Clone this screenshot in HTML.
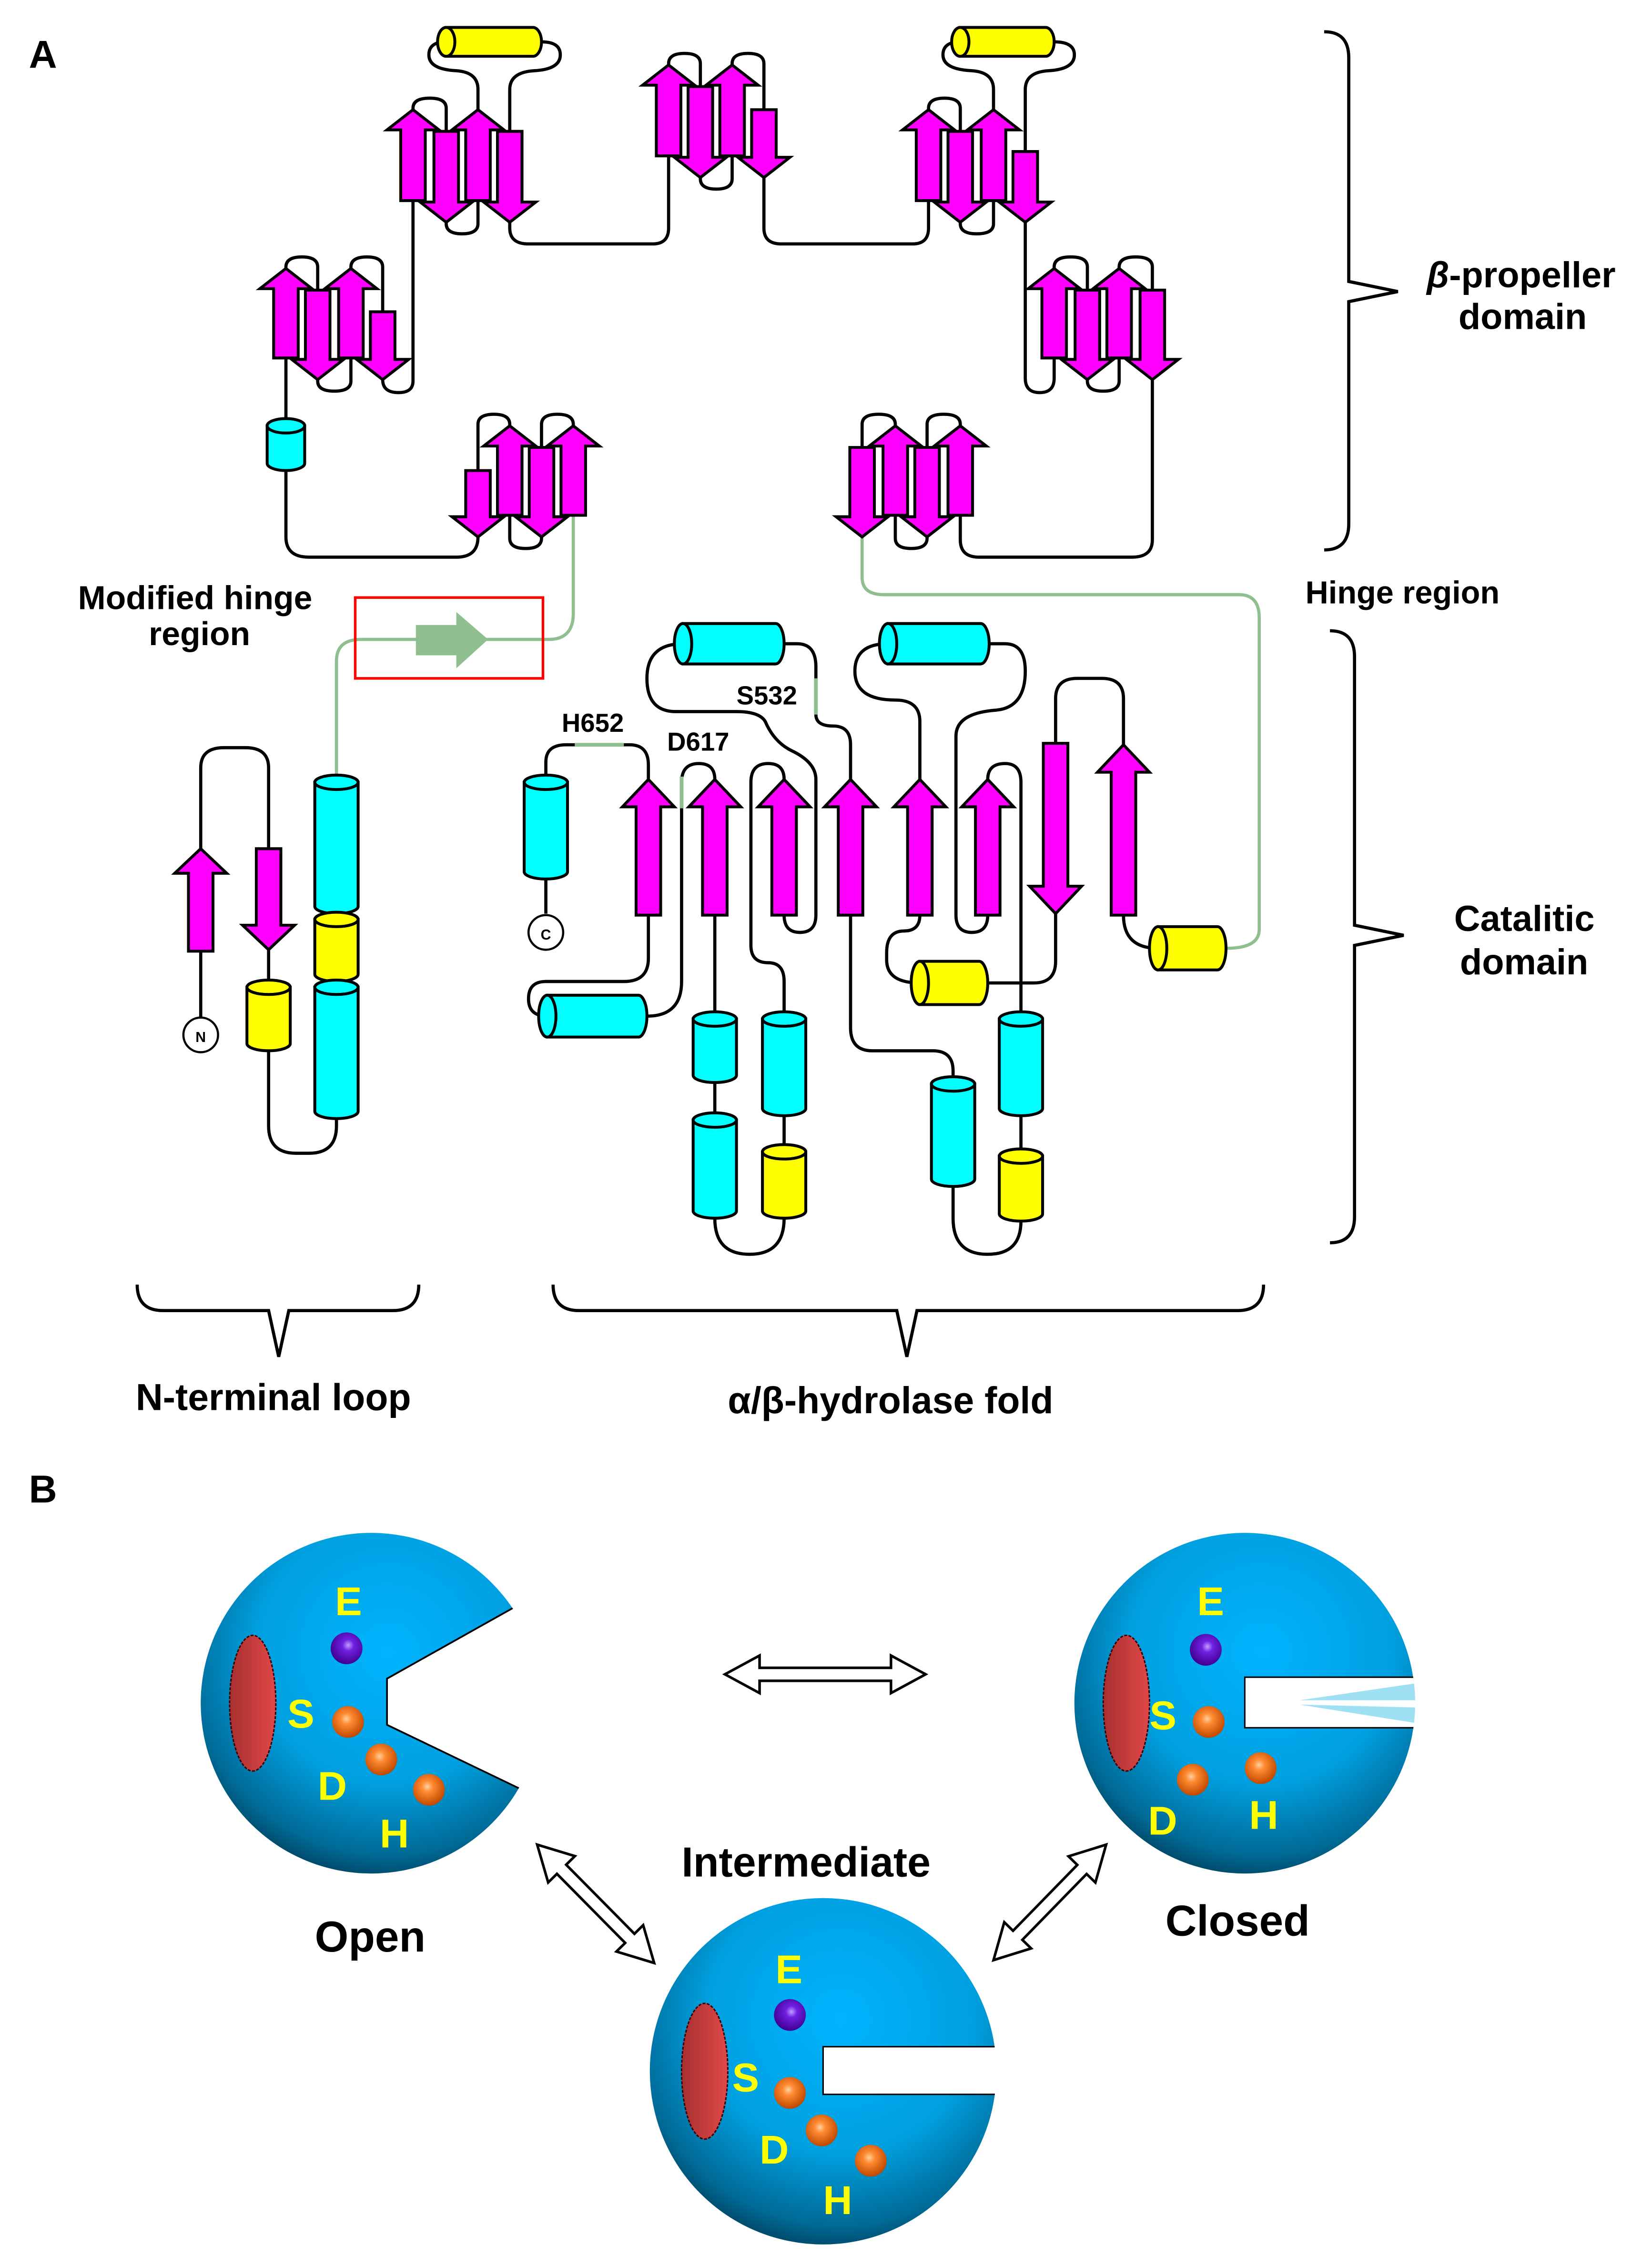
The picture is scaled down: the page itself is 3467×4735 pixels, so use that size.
<!DOCTYPE html>
<html><head><meta charset="utf-8">
<style>
html,body{margin:0;padding:0;background:#fff;}
svg{display:block;}
text{font-family:"Liberation Sans",Arial,sans-serif;font-weight:bold;}
</style></head>
<body>
<svg id="s" width="3467" height="4735" viewBox="0 0 1144 1563" preserveAspectRatio="none" xmlns="http://www.w3.org/2000/svg">
<defs>
<radialGradient id="sph" cx="0.55" cy="0.35" r="0.7">
<stop offset="0" stop-color="#00b4ff"/>
<stop offset="0.55" stop-color="#00a0e0"/>
<stop offset="0.85" stop-color="#006a96"/>
<stop offset="1" stop-color="#003850"/>
</radialGradient>
<radialGradient id="org" cx="0.45" cy="0.4" r="0.6">
<stop offset="0" stop-color="#ffd0a0"/>
<stop offset="0.3" stop-color="#ff8a30"/>
<stop offset="1" stop-color="#c04800"/>
</radialGradient>
<radialGradient id="pur" cx="0.55" cy="0.4" r="0.6">
<stop offset="0" stop-color="#c0a0ff"/>
<stop offset="0.3" stop-color="#7020e0"/>
<stop offset="1" stop-color="#400090"/>
</radialGradient>
<linearGradient id="red" x1="0" x2="1">
<stop offset="0" stop-color="#a83030"/><stop offset="1" stop-color="#e04848"/>
</linearGradient>
<clipPath id="cOpen"><circle cx="257" cy="1180" r="118"/></clipPath>
<clipPath id="cClosed"><circle cx="862" cy="1180" r="118"/></clipPath>
<clipPath id="cInt"><circle cx="570" cy="1435" r="120"/></clipPath>
</defs>
<g id="lines" fill="none" stroke="#000" stroke-width="2.2"></g>
<g id="green" fill="none" stroke="#8fbf8f" stroke-width="2.2"></g>
<g id="shapes" stroke="#000" stroke-width="2"></g>

<text x="20" y="47" font-size="27">A</text>
<text x="20" y="1041" font-size="27">B</text>
<text x="988" y="199" font-size="25"><tspan font-style="italic">β</tspan>-propeller</text>
<text x="1010" y="228" font-size="25">domain</text>
<text x="904" y="418" font-size="22">Hinge region</text>
<text x="1007" y="645" font-size="25">Catalitic</text>
<text x="1011" y="675" font-size="25">domain</text>
<text x="54" y="422" font-size="23">Modified hinge</text>
<text x="103" y="447" font-size="23">region</text>
<text x="389" y="507" font-size="18">H652</text>
<text x="462" y="520" font-size="18">D617</text>
<text x="510" y="488" font-size="18">S532</text>
<text x="94" y="977" font-size="26">N-terminal loop</text>
<text x="504" y="979" font-size="26">α/β-hydrolase fold</text>
<text x="472" y="1300" font-size="29">Intermediate</text>
<text x="218" y="1352" font-size="30">Open</text>
<text x="807" y="1341" font-size="30">Closed</text>
<text x="139" y="722" font-size="10" font-family="Liberation Serif" font-weight="normal" text-anchor="middle" id="nt">N</text>
<text x="378" y="651" font-size="10" font-family="Liberation Serif" font-weight="normal" text-anchor="middle" id="ct">C</text>
<g id="sphtext" fill="#ffff00" font-size="28">
<text x="232" y="1119">E</text><text x="199" y="1197">S</text><text x="220" y="1247">D</text><text x="263" y="1280">H</text>
<text x="829" y="1119">E</text><text x="796" y="1198">S</text><text x="795" y="1271">D</text><text x="865" y="1267">H</text>
<text x="537" y="1374">E</text><text x="507" y="1449">S</text><text x="526" y="1499">D</text><text x="570" y="1534">H</text>
</g>
</svg>
<script>
(function(){
var NS="http://www.w3.org/2000/svg";
var L=document.getElementById('lines'),G=document.getElementById('green'),S=document.getElementById('shapes');
var svg=document.getElementById('s');
function el(p,tag,a){var e=document.createElementNS(NS,tag);for(var k in a)e.setAttribute(k,a[k]);p.appendChild(e);return e;}
function path(p,d,a){a=a||{};a.d=d;return el(p,'path',a);}
var MAG="#ff00ff",CY="#00ffff",YE="#ffff00";
function up(cx,t,b,hh){hh=hh||14;var s=8.5,h=18;
 path(S,"M"+(cx-s)+","+b+"V"+(t+hh)+"H"+(cx-h)+"L"+cx+","+t+"L"+(cx+h)+","+(t+hh)+"H"+(cx+s)+"V"+b+"Z",{fill:MAG});}
function dn(cx,t,b,hh){hh=hh||14;var s=8.5,h=18;
 path(S,"M"+(cx-s)+","+t+"V"+(b-hh)+"H"+(cx-h)+"L"+cx+","+b+"L"+(cx+h)+","+(b-hh)+"H"+(cx+s)+"V"+t+"Z",{fill:MAG});}
function vc(cx,t,b,w,c){var e=5,x1=cx-w/2,x2=cx+w/2;
 path(S,"M"+x1+","+t+"V"+(b-e)+"A"+(w/2)+","+e+" 0 0 0 "+x2+","+(b-e)+"V"+t+"Z",{fill:c});
 el(S,'ellipse',{cx:cx,cy:t,rx:w/2,ry:e,fill:c});}
function hc(l,r,cy,h,c){var e=6;
 path(S,"M"+l+","+(cy-h/2)+"H"+(r-e)+"A"+e+","+(h/2)+" 0 0 1 "+(r-e)+","+(cy+h/2)+"H"+l+"Z",{fill:c});
 el(S,'ellipse',{cx:l,cy:cy,rx:e,ry:h/2,fill:c});}
function topLoop(x1,t1,x2,t2,ap){var m=(x1+x2)/2;
 path(L,"M"+x1+","+t1+"V"+(ap+7)+"Q"+x1+","+ap+" "+m+","+ap+"Q"+x2+","+ap+" "+x2+","+(ap+7)+"V"+t2);}
function botLoop(x1,b1,x2,b2,ap){var m=(x1+x2)/2;
 path(L,"M"+x1+","+b1+"V"+(ap-7)+"Q"+x1+","+ap+" "+m+","+ap+"Q"+x2+","+ap+" "+x2+","+(ap-7)+"V"+b2);}
function group(st,skip){
 for(var i=0;i<3;i++){var a=st[i],b=st[i+1];
  if(i==1){botLoop(a[0],a[3],b[0],b[3],Math.max(a[3],b[3])+8);}
  else if(!(skip&&i==2)){topLoop(a[0],a[2],b[0],b[2],Math.min(a[2],b[2])-8);}
 }
}
var groups=[
 [[286,'u',76,139],[309,'d',91,154],[331,'u',76,139],[353,'d',91,154]],
 [[463,'u',45,108],[485,'d',60,123],[507,'u',45,108],[529,'d',76,123]],
 [[643,'u',76,139],[665,'d',91,154],[688,'u',76,139],[710,'d',105,154]],
 [[198,'u',186,248],[220,'d',201,263],[243,'u',186,248],[265,'d',216,263]],
 [[730,'u',186,248],[753,'d',201,263],[775,'u',186,248],[798,'d',201,263]],
 [[331,'d',326,372],[353,'u',295,357],[375,'d',310,372],[397,'u',295,357]],
 [[597,'d',310,372],[620,'u',295,357],[642,'d',310,372],[665,'u',295,357]]
];
groups.forEach(function(g,i){group(g,i==0||i==2);});
path(L,"M331,76V62Q331,50 316,49Q297,48 297,38Q297,29 309,29");
path(L,"M353,91V62Q353,50 370,49Q388,48 388,38Q388,29 375,29");
path(L,"M688,76V62Q688,50 673,49Q653,48 653,38Q653,29 665,29");
path(L,"M710,105V62Q710,50 726,49Q744,48 744,38Q744,29 730,29");
path(L,"M286,139V264Q286,272 276,272Q265,272 265,263");
path(L,"M198,248V295M198,326V372Q198,386 214,386H316Q331,386 331,372");
path(L,"M353,154V158Q353,169 366,169H452Q463,169 463,158V108");
path(L,"M529,123V158Q529,169 541,169H632Q643,169 643,158V139");
path(L,"M710,154V262Q710,272 720,272Q730,272 730,262V248");
path(L,"M798,263V374Q798,386 784,386H678Q665,386 665,374V357");
path(L,"M378,542V528Q378,516 392,516H436Q449,516 449,530V540");
path(G,"M398,516H432",{"stroke-width":2.6});
path(L,"M495,540Q495,529 484,529Q472,529 472,542V680Q472,704 448,704");
path(G,"M472,538V560",{"stroke-width":2.6});
path(L,"M449,634V664Q449,680 432,680H378Q366,680 366,692Q366,704 379,704");
path(L,"M495,634V706M495,750V776M495,844Q495,869 519,869Q543,869 543,844");
path(L,"M543,540Q543,529 532,529Q520,529 520,542V655Q520,667 532,667Q543,667 543,680V706M543,773V798");
path(L,"M543,634Q543,646 554,646Q565,646 565,634V540Q565,528 548,520Q536,514 530,500Q526,493 510,493H468Q448,493 448,470Q448,446 473,446");
path(L,"M543,446H552Q565,446 565,462V470M565,495Q565,503 577,503Q589,503 589,516V540");
path(G,"M565,470V495",{"stroke-width":2.6});
path(L,"M589,634V712Q589,728 604,728H646Q660,728 660,742V751");
path(L,"M637,540V500Q637,485 620,485Q592,485 592,465Q592,446 615,446");
path(L,"M685,446H696Q710,446 710,465Q710,490 690,492Q662,494 662,510V634Q662,646 673,646Q684,646 684,634");
path(L,"M637,634Q637,645 626,645Q614,645 614,660V665Q614,681 637,681");
path(L,"M684,681H716Q731,681 731,666V633");
path(L,"M684,540Q684,529 696,529Q707,529 707,542V706M707,773V801M707,846Q707,869 684,869Q660,869 660,844V822");
path(L,"M731,515V484Q731,470 746,470H763Q778,470 778,484V516");
path(L,"M778,634Q778,657 802,657");
path(L,"M378,609V633");
path(L,"M139,588V532Q139,518 155,518H170Q186,518 186,532V588");
path(L,"M139,659V705M186,658V684M186,728V780Q186,799 205,799H214Q233,799 233,780V775");
path(G,"M397,357V425Q397,443 380,443H250Q233,443 233,458V542");
path(G,"M597,372V400Q597,412 612,412H858Q872,412 872,428V644Q872,657 849,657");
groups.forEach(function(g){g.forEach(function(a){if(a[1]=='u')up(a[0],a[2],a[3]);else dn(a[0],a[2],a[3]);});});
hc(309,375,29,20,YE);hc(665,730,29,20,YE);
vc(198,295,326,26,CY);
[449,495,543,589,637,684].forEach(function(x){up(x,540,634,19);});
dn(731,515,633,19);up(778,516,634,19);
hc(473,543,446,28,CY);hc(615,685,446,28,CY);
vc(378,542,609,30,CY);
hc(379,448,704,29,CY);
vc(495,706,750,30,CY);vc(495,776,844,30,CY);
vc(543,706,773,30,CY);vc(543,798,844,30,YE);
vc(660,751,822,30,CY);
vc(707,706,773,30,CY);vc(707,801,846,30,YE);
hc(637,684,681,30,YE);hc(802,849,657,30,YE);
el(S,'circle',{cx:378,cy:646,r:12,fill:"#fff","stroke-width":1.5});
up(139,588,659,17);dn(186,588,658,17);
vc(186,684,728,30,YE);
vc(233,542,633,30,CY);vc(233,637,680,30,YE);vc(233,684,775,30,CY);
el(S,'circle',{cx:139,cy:717,r:12,fill:"#fff","stroke-width":1.5});
[[233,637],[233,684],[186,684],[495,776],[543,798],[707,801]].forEach(function(p){path(L,"M"+p[0]+","+(p[1]-5)+"V"+(p[1]+4));});
el(S,'rect',{x:246,y:414,width:130,height:56,fill:"none",stroke:"#ff0000","stroke-width":1.8});
path(S,"M288,433H316V424L338,443L316,463V454H288Z",{fill:"#8fbf8f",stroke:"none"});
svg.appendChild(document.getElementById('nt'));svg.appendChild(document.getElementById('ct'));
path(L,"M917,22Q934,22 934,40V195L968,202L934,209V363Q934,381 917,381");
path(L,"M921,437Q938,437 938,455V641L972,648L938,655V843Q938,861 921,861");
path(L,"M95,890Q95,908 113,908H186L193,940L200,908H272Q290,908 290,890");
path(L,"M383,890Q383,908 401,908H621L628,940L635,908H857Q875,908 875,890");
var P=document.createElementNS(NS,'g');svg.insertBefore(P,document.getElementById('sphtext'));
function sphere(cx,cy,r){el(P,'circle',{cx:cx,cy:cy,r:r,fill:"url(#sph)"});
 el(P,'ellipse',{cx:cx-82,cy:cy,rx:16,ry:47,fill:"url(#red)",stroke:"#400",'stroke-width':1,'stroke-dasharray':'2,1'});}
sphere(257,1180,118);
path(P,"M366,1108L268,1163V1195L372,1245L420,1270L420,1080Z",{fill:"#fff",stroke:"none"});
path(P,"M366,1108L268,1163V1195L372,1245",{fill:"none",stroke:"#000","stroke-width":1.2,"clip-path":"url(#cOpen)"});
sphere(862,1180,118);
path(P,"M862,1162H990V1197H862Z",{fill:"#fff",stroke:"none"});
path(P,"M990,1162H862V1197H990",{fill:"none",stroke:"#000","stroke-width":1,"clip-path":"url(#cClosed)"});
path(P,"M900,1178L982,1166V1178Z M900,1181L982,1183V1194Z",{fill:"#9fe0f5",stroke:"none","clip-path":"url(#cClosed)"});
sphere(570,1435,120);
path(P,"M570,1418H700V1451H570Z",{fill:"#fff",stroke:"none"});
path(P,"M700,1418H570V1451H700",{fill:"none",stroke:"#000","stroke-width":1,"clip-path":"url(#cInt)"});
function ball(x,y,g){el(P,'circle',{cx:x,cy:y,r:11,fill:"url(#"+g+")"});}
ball(240,1142,'pur');ball(241,1193,'org');ball(264,1219,'org');ball(297,1240,'org');
ball(835,1143,'pur');ball(837,1193,'org');ball(826,1233,'org');ball(873,1225,'org');
ball(547,1396,'pur');ball(547,1450,'org');ball(569,1476,'org');ball(603,1497,'org');
function dbl(x1,y1,x2,y2){var dx=x2-x1,dy=y2-y1,Ln=Math.sqrt(dx*dx+dy*dy),a=Math.atan2(dy,dx)*180/Math.PI;
 var hl=24,hw=13,sw=4.5;
 var d="M0,0L"+hl+","+(-hw)+"V"+(-sw)+"H"+(Ln-hl)+"V"+(-hw)+"L"+Ln+",0L"+(Ln-hl)+","+hw+"V"+sw+"H"+hl+"V"+hw+"Z";
 path(P,d,{fill:"#fff",stroke:"#000","stroke-width":1.8,transform:"translate("+x1+","+y1+") rotate("+a+")"});}
dbl(502,1160,641,1160);dbl(372,1278,453,1360);dbl(688,1358,766,1278);
})();
</script>
</body></html>
